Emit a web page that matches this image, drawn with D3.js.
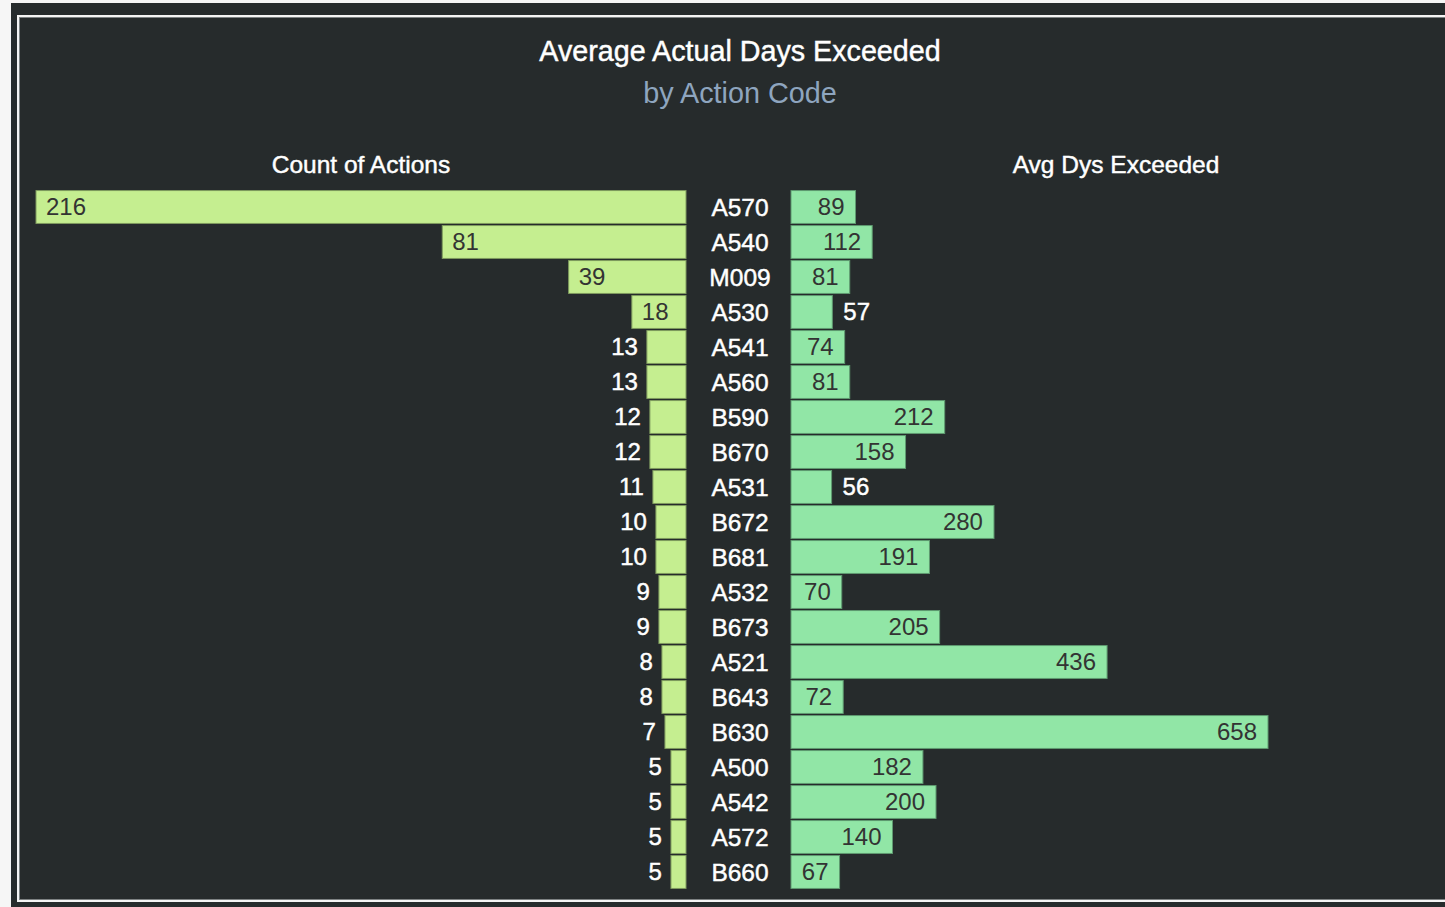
<!DOCTYPE html>
<html>
<head>
<meta charset="utf-8">
<script src="https://cdn.jsdelivr.net/npm/d3@7"></script>
<style>
  html, body { margin: 0; padding: 0; background: #f6f6f6; }
  svg { display: block; }
  text { font-family: Arial, "Liberation Sans", sans-serif; }
</style>
</head>
<body>
<svg id="chart" width="1445" height="907"></svg>
<script>
// Action codes, ordered by number of actions
const codes = ["A570","A540","M009","A530","A541","A560","B590","B670","A531","B672",
               "B681","A532","B673","A521","B643","B630","A500","A542","A572","B660"];
// Count of actions per code
const counts = [216,81,39,18,13,13,12,12,11,10,10,9,9,8,8,7,5,5,5,5];
// Average days exceeded per code
const avgDays = [89,112,81,57,74,81,212,158,56,280,191,70,205,436,72,658,182,200,140,67];

const titleText = "Average Actual Days Exceeded";
const subtitleText = "by Action Code";
const leftHeader = "Count of Actions";
const rightHeader = "Avg Dys Exceeded";

const rows = codes.map((c, i) => ({ code: c, count: counts[i], avg: avgDays[i] }));

const svg = d3.select("#chart");

// panel background and frame
svg.append("rect").attr("x", 11).attr("y", 3).attr("width", 1434).attr("height", 904)
  .attr("fill", "#262b2c");
svg.append("rect").attr("x", 18).attr("y", 16).attr("width", 1440).attr("height", 885)
  .attr("fill", "none").attr("stroke", "#f4f4f4").attr("stroke-width", 2);
svg.append("rect").attr("x", 19.5).attr("y", 17.5).attr("width", 1440).attr("height", 882)
  .attr("fill", "none").attr("stroke", "#7d8283").attr("stroke-width", 1);

const centerX = 740;
const leftEdge = 686;   // right end of the count bars
const rightEdge = 791;  // left start of the average bars

// slightly heavier white text
function whiteText(sel) {
  return sel.attr("fill", "#ffffff").attr("stroke", "#ffffff").attr("stroke-width", 0.45);
}

// titles
whiteText(svg.append("text").attr("x", centerX).attr("y", 61).attr("text-anchor", "middle")
  .attr("font-size", 28.7).text(titleText));
svg.append("text").attr("x", centerX).attr("y", 103).attr("text-anchor", "middle")
  .attr("fill", "#8ea5bf").attr("font-size", 28.8).text(subtitleText);
whiteText(svg.append("text").attr("x", 361).attr("y", 173).attr("text-anchor", "middle")
  .attr("font-size", 24.5).text(leftHeader));
whiteText(svg.append("text").attr("x", 1116).attr("y", 173).attr("text-anchor", "middle")
  .attr("font-size", 24.5).text(rightHeader));

// scales
const y = d3.scaleBand().domain(codes).range([189.5, 889.5])
  .paddingInner(0.06).paddingOuter(0.03);
const xCount = d3.scaleLinear().domain([0, 216]).range([0, 650]);
const xAvg = d3.scaleLinear().domain([0, 658]).range([0, 477]);

const fontSize = 24;
const pad = 10;

// category labels in the middle column
whiteText(svg.append("g").selectAll("text").data(rows).join("text")
  .attr("x", centerX).attr("y", d => y(d.code) + y.bandwidth() / 2)
  .attr("dy", "0.35em").attr("text-anchor", "middle")
  .attr("font-size", 24.5)
  .text(d => d.code));

// left bars: count of actions, growing leftwards
const gL = svg.append("g");
gL.selectAll("rect").data(rows).join("rect")
  .attr("x", d => leftEdge - xCount(d.count))
  .attr("y", d => y(d.code))
  .attr("width", d => xCount(d.count))
  .attr("height", y.bandwidth())
  .attr("fill", "#c5ee90")
  .attr("stroke", "#7e9a5e").attr("stroke-width", 1);

gL.selectAll("text").data(rows).join("text")
  .attr("y", d => y(d.code) + y.bandwidth() / 2)
  .attr("dy", "0.35em").attr("font-size", fontSize)
  .text(d => d.count)
  .each(function (d) {
    const w = this.getComputedTextLength();
    const bw = xCount(d.count);
    const t = d3.select(this);
    if (bw >= w + 2 * pad) {
      t.attr("x", leftEdge - bw + pad).attr("text-anchor", "start").attr("fill", "#333333");
    } else {
      whiteText(t.attr("x", leftEdge - bw - 9).attr("text-anchor", "end"));
    }
  });

// right bars: average days exceeded, growing rightwards
const gR = svg.append("g");
gR.selectAll("rect").data(rows).join("rect")
  .attr("x", rightEdge)
  .attr("y", d => y(d.code))
  .attr("width", d => xAvg(d.avg))
  .attr("height", y.bandwidth())
  .attr("fill", "#91e6a6")
  .attr("stroke", "#5f9a70").attr("stroke-width", 1);

gR.selectAll("text").data(rows).join("text")
  .attr("y", d => y(d.code) + y.bandwidth() / 2)
  .attr("dy", "0.35em").attr("font-size", fontSize)
  .text(d => d.avg)
  .each(function (d) {
    const w = this.getComputedTextLength();
    const bw = xAvg(d.avg);
    const t = d3.select(this);
    if (bw >= w + 2 * pad) {
      t.attr("x", rightEdge + bw - 11).attr("text-anchor", "end").attr("fill", "#333333");
    } else {
      whiteText(t.attr("x", rightEdge + bw + 11).attr("text-anchor", "start"));
    }
  });
</script>
</body>
</html>
